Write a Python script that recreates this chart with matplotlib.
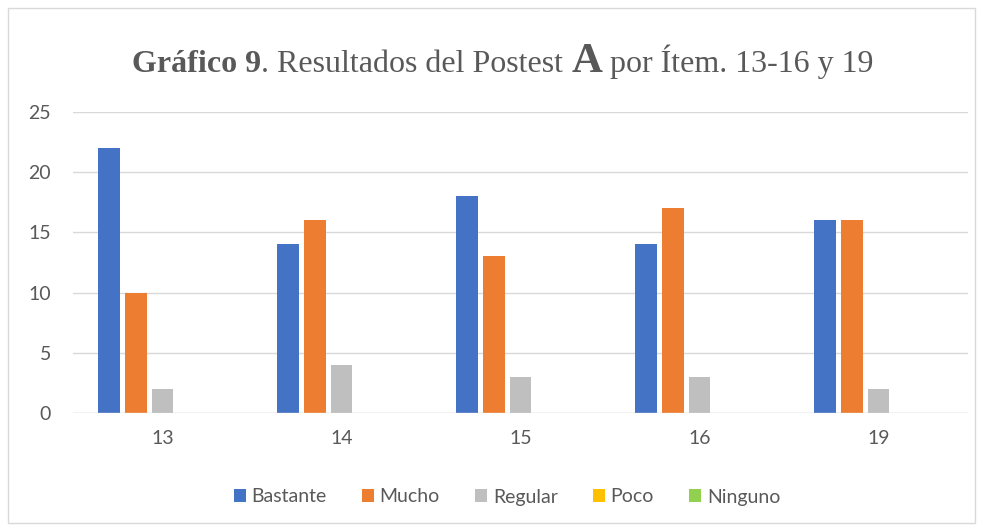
import matplotlib
matplotlib.use('Agg')
import matplotlib.pyplot as plt
import matplotlib.patches as mpatches
import numpy as np

categories = ["13", "14", "15", "16", "19"]
series_names = ["Bastante", "Mucho", "Regular", "Poco", "Ninguno"]
bastante = [22, 14, 18, 14, 16]
mucho = [10, 16, 13, 17, 16]
regular = [2, 4, 3, 3, 2]
poco = [0, 0, 0, 0, 0]
ninguno = [0, 0, 0, 0, 0]
y_ticks = [0, 5, 10, 15, 20, 25]

colors = ["#4472C4", "#ED7D31", "#BFBFBF", "#FFC000", "#92D050"]
text_color = "#595959"
sans = ["Lato", "DejaVu Sans"]
serif = ["Liberation Serif", "DejaVu Serif"]

fig = plt.figure(figsize=(9.83, 5.29), dpi=100)
fig.patch.set_facecolor("white")
ax = fig.add_axes([0.0743, 0.2193, 0.9105, 0.569])

x = np.arange(len(categories))
step = 0.1494
width = 0.12
all_series = [bastante, mucho, regular, poco, ninguno]
for i, (name, vals) in enumerate(zip(series_names, all_series)):
    ax.bar(x + (i - 2) * step, vals, width=width, color=colors[i], label=name, zorder=3)

ax.set_xlim(-0.5, len(categories) - 0.5)
ax.set_ylim(0, 25)
ax.set_yticks(y_ticks)
ax.set_xticks(x)
ax.set_xticklabels(categories)
for lab in ax.get_xticklabels() + ax.get_yticklabels():
    lab.set_fontfamily(sans)
    lab.set_fontsize(14)
    lab.set_color(text_color)
ax.grid(axis="y", color="#D9D9D9", linewidth=1, zorder=0)
for s in ax.spines.values():
    s.set_visible(False)
ax.axhline(0, color="#D9D9D9", linewidth=1, zorder=4)
ax.tick_params(axis="both", length=0)
ax.tick_params(axis="y", pad=16)
ax.tick_params(axis="x", pad=12)

# chart border
fig.patches.append(mpatches.Rectangle((8 / 983, 6 / 529), 967 / 983, 515 / 529,
                                      transform=fig.transFigure, fill=False,
                                      edgecolor="#D9D9D9", linewidth=1))

# title in pieces with mixed styles
pieces = [("Gráfico 9", "bold", 23),
          (". Resultados del Postest ", "normal", 23),
          ("A", "bold", 31),
          (" por Ítem. 13-16 y 19", "normal", 23)]
renderer = fig.canvas.get_renderer()
texts = []
xpos = 0
for s, w, fs in pieces:
    t = fig.text(xpos, 1 - 72 / 529, s, fontfamily=serif, fontweight=w, fontsize=fs,
                 color=text_color, ha="left", va="baseline")
    bb = t.get_window_extent(renderer)
    texts.append(t)
    xpos += bb.width / fig.bbox.width
start = 503 / 983 - xpos / 2
for t in texts:
    px, py = t.get_position()
    t.set_position((px + start, py))

leg = fig.legend(loc="center", bbox_to_anchor=(507 / 983, 1 - 497 / 529), ncol=5,
                 frameon=False, prop={"family": sans, "size": 14},
                 handlelength=0.62, handleheight=0.62, handletextpad=0.3, columnspacing=1.8)
for t in leg.get_texts():
    t.set_color(text_color)

fig.savefig("out.png", dpi=100, facecolor="white")
